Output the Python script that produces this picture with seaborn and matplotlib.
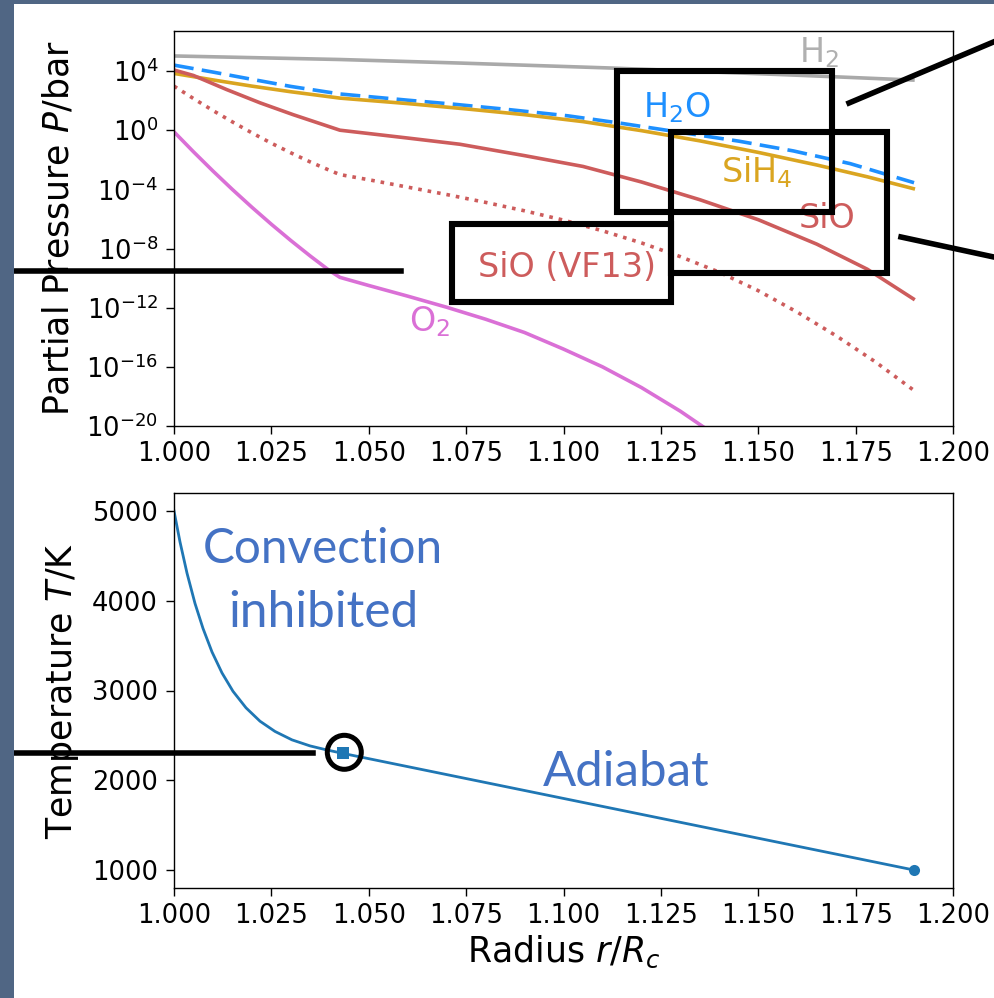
import numpy as np
import pandas as pd
import matplotlib
matplotlib.use("Agg")
import matplotlib.pyplot as plt
import seaborn as sns
from matplotlib.patches import Rectangle, Ellipse
from matplotlib.lines import Line2D
from matplotlib.ticker import FixedLocator, NullLocator, FormatStrFormatter

# ---- partial pressures: radius r/R_c and log10(P / bar) per species ----
r_h2 = [1.0, 1.0426, 1.0734, 1.1127, 1.1351, 1.1607, 1.1897]
logp_h2 = [5.02, 4.78, 4.54, 4.20, 3.97, 3.71, 3.39]

r_h2o = [1.0, 1.01, 1.02, 1.03, 1.0426, 1.06, 1.0717, 1.085, 1.1012, 1.115,
         1.1299, 1.145, 1.159, 1.1736, 1.19]
logp_h2o = [4.40, 3.93, 3.44, 2.96, 2.45, 2.03, 1.76, 1.42, 0.97, 0.46,
            -0.14, -0.74, -1.40, -2.26, -3.55]

r_sih4 = [1.0, 1.01, 1.02, 1.03, 1.0426, 1.06, 1.075, 1.09, 1.105, 1.12,
          1.135, 1.15, 1.165, 1.178, 1.1898]
logp_sih4 = [3.84, 3.40, 2.98, 2.60, 2.17, 1.80, 1.44, 1.05, 0.58, -0.03,
             -0.72, -1.50, -2.35, -3.15, -3.95]

r_sio = [1.0, 1.005, 1.0135, 1.0221, 1.0306, 1.0426, 1.06, 1.0734, 1.09, 1.105,
         1.12, 1.135, 1.15, 1.165, 1.178, 1.1898]
logp_sio = [4.07, 3.70, 2.75, 1.85, 1.05, 0.00, -0.53, -0.95, -1.72, -2.45,
            -3.50, -4.70, -6.05, -7.70, -9.40, -11.40]

r_sio_vf13 = [1.0, 1.005, 1.01, 1.015, 1.02, 1.025, 1.03, 1.035, 1.04, 1.0426,
              1.05, 1.06, 1.07, 1.08, 1.09, 1.10, 1.11, 1.12, 1.13, 1.14,
              1.15, 1.16, 1.17, 1.18, 1.19]
logp_sio_vf13 = [2.98, 2.14, 1.33, 0.56, -0.18, -0.88, -1.53, -2.15, -2.72, -3.00,
                 -3.35, -3.85, -4.35, -4.88, -5.45, -6.08, -6.80, -7.62, -8.55, -9.60,
                 -10.85, -12.30, -13.90, -15.65, -17.60]

r_o2 = [1.0, 1.005, 1.01, 1.015, 1.02, 1.025, 1.03, 1.035, 1.04, 1.0426,
        1.05, 1.06, 1.07, 1.08, 1.09, 1.10, 1.11, 1.12, 1.13, 1.14, 1.15]
logp_o2 = [-0.11, -1.46, -2.76, -4.01, -5.21, -6.36, -7.46, -8.51, -9.51, -9.95,
           -10.50, -11.22, -11.97, -12.78, -13.68, -14.80, -16.00, -17.40, -19.00, -20.80,
           -22.80]

# ---- temperature profile ----
r_temp = [1.0, 1.00154, 1.00334, 1.00539, 1.00745, 1.00976, 1.01232, 1.01515, 1.01849,
          1.02208, 1.02593, 1.0303, 1.03492, 1.03902, 1.0433, 1.19]
temp_k = [5000, 4655, 4307, 3970, 3691, 3429, 3196, 2991, 2807,
          2658, 2544, 2450, 2383, 2340, 2300, 1000]
r_knee, t_knee = 1.0433, 2300
r_top, t_top = 1.19, 1000

x_ticks = [1.000, 1.025, 1.050, 1.075, 1.100, 1.125, 1.150, 1.175, 1.200]
p_ticks = [1e-20, 1e-16, 1e-12, 1e-8, 1e-4, 1e0, 1e4]
t_ticks = [1000, 2000, 3000, 4000, 5000]

W, H = 994, 998
plt.rcParams["font.family"] = ["DejaVu Sans"]
plt.rcParams["mathtext.fontset"] = "dejavusans"

fig = plt.figure(figsize=(W / 100, H / 100), dpi=100, facecolor="white")


def fx(x):
    return x / W


def fy(y):
    return 1 - y / H


ax1 = fig.add_axes([fx(174), fy(426), fx(953) - fx(174), fy(31) - fy(426)])
ax2 = fig.add_axes([fx(174), fy(888), fx(953) - fx(174), fy(493) - fy(888)])

species = [
    (r_h2, logp_h2, "darkgray", "-"),
    (r_h2o, logp_h2o, "dodgerblue", (0, (5.5, 2.3))),
    (r_sih4, logp_sih4, "goldenrod", "-"),
    (r_sio, logp_sio, "indianred", "-"),
    (r_sio_vf13, logp_sio_vf13, "indianred", ":"),
    (r_o2, logp_o2, "orchid", "-"),
]
for rr, logp, col, ls in species:
    df = pd.DataFrame({"r": rr, "p": 10.0 ** np.array(logp)})
    sns.lineplot(data=df, x="r", y="p", ax=ax1, color=col, linestyle=ls,
                 linewidth=2.6, estimator=None, sort=False)

ax1.set_yscale("log")
ax1.set_xlim(1.0, 1.2)
ax1.set_ylim(1e-20, 5.1e6)
ax1.yaxis.set_major_locator(FixedLocator(p_ticks))
ax1.yaxis.set_minor_locator(NullLocator())
ax1.xaxis.set_major_locator(FixedLocator(x_ticks))
ax1.xaxis.set_major_formatter(FormatStrFormatter("%.3f"))
ax1.set_xlabel("")
ax1.set_ylabel("Partial Pressure $P$/bar", fontsize=25)
ax1.yaxis.set_label_coords(-0.127, 0.5)

label_fs = 24
ax1.text(1.1605, 10 ** 4.61, "H$_2$", color="#b0b0b0", fontsize=label_fs, va="baseline")
ax1.text(1.1204, 10 ** 0.88, "H$_2$O", color="dodgerblue", fontsize=label_fs, va="baseline")
ax1.text(1.1404, 10 ** -3.53, "SiH$_4$", color="goldenrod", fontsize=label_fs, va="baseline")
ax1.text(1.1605, 10 ** -6.64, "SiO", color="indianred", fontsize=label_fs, va="baseline")
ax1.text(1.0780, 10 ** -9.9, "SiO (VF13)", color="indianred", fontsize=label_fs, va="baseline")
ax1.text(1.0603, 10 ** -13.63, "O$_2$", color="orchid", fontsize=label_fs, va="baseline")

# temperature panel
dft = pd.DataFrame({"r": r_temp, "T": temp_k})
sns.lineplot(data=dft, x="r", y="T", ax=ax2, color="#1f77b4", linewidth=2.0,
             estimator=None, sort=False)
sns.scatterplot(x=[r_knee], y=[t_knee], ax=ax2, marker="s", s=64, color="#1f77b4",
                linewidth=0, zorder=3)
sns.scatterplot(x=[r_top], y=[t_top], ax=ax2, marker="o", s=64, color="#1f77b4",
                linewidth=0, zorder=3)
ax2.set_xlim(1.0, 1.2)
ax2.set_ylim(800, 5200)
ax2.xaxis.set_major_locator(FixedLocator(x_ticks))
ax2.xaxis.set_major_formatter(FormatStrFormatter("%.3f"))
ax2.yaxis.set_major_locator(FixedLocator(t_ticks))
ax2.set_xlabel("Radius $r/R_c$", fontsize=25)
ax2.set_ylabel("Temperature $T$/K", fontsize=25)
ax2.yaxis.set_label_coords(-0.12, 0.5)

for ax in (ax1, ax2):
    ax.tick_params(labelsize=18.5, length=5.5, width=1.0, direction="out")
    ax.tick_params(axis="y", pad=6)
    ax.tick_params(axis="x", pad=5)
    for sp in ax.spines.values():
        sp.set_linewidth(1.0)
        sp.set_color("black")

# annotation text
renderer = fig.canvas.get_renderer()


def fitted_text(x, y, s, width_px, **kw):
    t = fig.text(fx(x), fy(y), s, **kw)
    w = t.get_window_extent(renderer).width
    t.set_fontsize(t.get_fontsize() * width_px / w)
    return t


note_kw = dict(color="#4472c4", family=["Lato", "DejaVu Sans"], fontsize=36, va="baseline")
fitted_text(323, 563, "Convection", 240, ha="center", **note_kw)
fitted_text(323, 627, "inhibited", 191, ha="center", **note_kw)
fitted_text(543, 786, "Adiabat", 167, ha="left", **note_kw)

# callout boxes and leader lines
box_lw = 4.4
for (x0, y0, x1, y1) in [(617, 71, 832, 212), (671, 132, 887, 273), (452, 223.5, 671, 302)]:
    fig.add_artist(Rectangle((fx(x0), fy(y1)), fx(x1) - fx(x0), fy(y0) - fy(y1),
                             transform=fig.transFigure, fill=False, edgecolor="black",
                             linewidth=box_lw, joinstyle="miter", zorder=10))
for (xa, ya, xb, yb) in [(849, 103, 1010, 35), (901, 237, 1010, 260.5),
                         (0, 271, 401, 271), (0, 752.5, 313, 752.5)]:
    fig.add_artist(Line2D([fx(xa), fx(xb)], [fy(ya), fy(yb)], transform=fig.transFigure,
                          color="black", linewidth=4.0, zorder=10))
fig.add_artist(Ellipse((fx(344.3), fy(752.3)), 34 / W, 34 / H, transform=fig.transFigure,
                       fill=False, edgecolor="black", linewidth=3.6, zorder=10))

# slide frame
frame = "#506684"
fig.add_artist(Rectangle((0, fy(4)), 1, fy(0) - fy(4), transform=fig.transFigure,
                         facecolor=frame, edgecolor="none", zorder=11))
fig.add_artist(Rectangle((0, 0), fx(14), 1, transform=fig.transFigure,
                         facecolor=frame, edgecolor="none", zorder=11))

fig.savefig("out.png", dpi=100, facecolor="white")
